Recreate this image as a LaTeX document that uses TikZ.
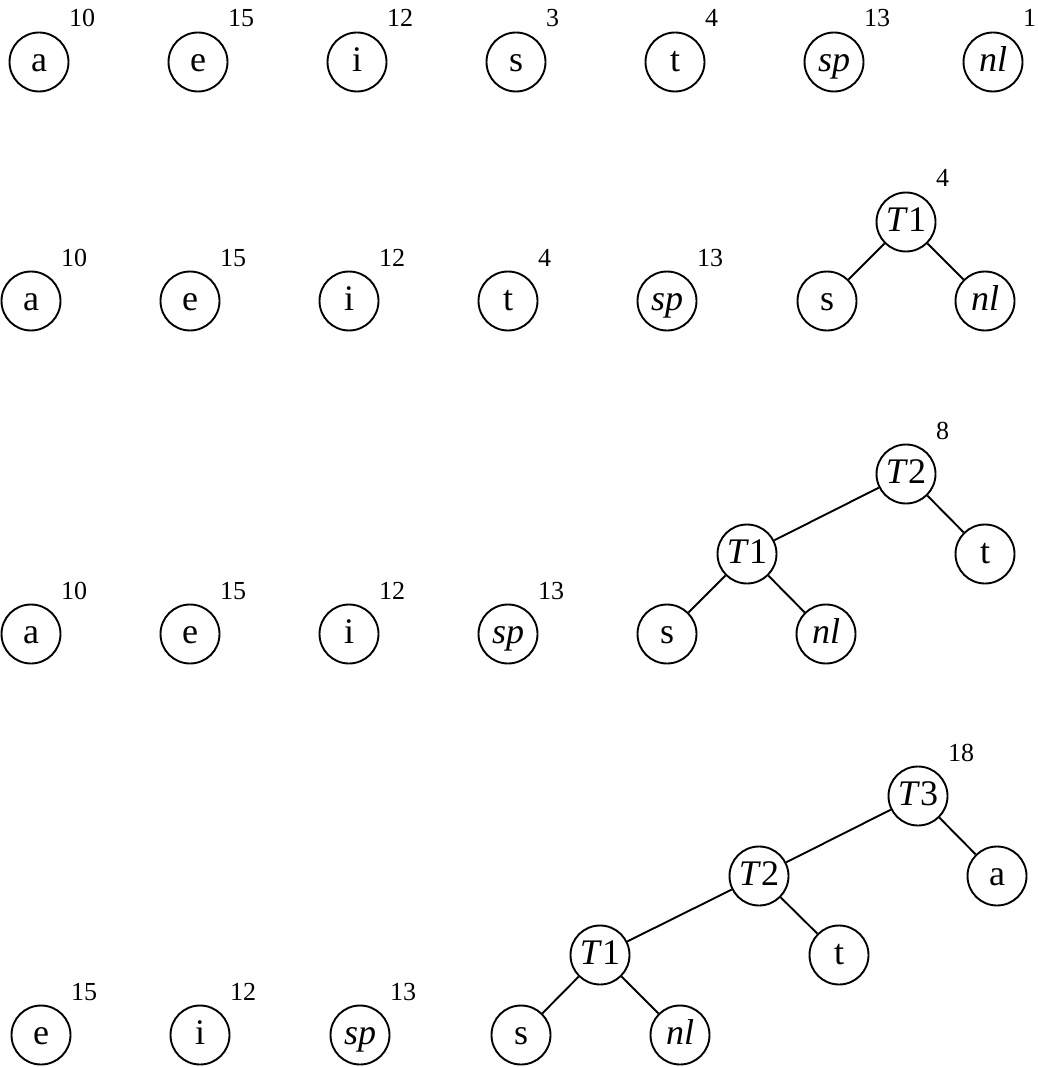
\documentclass[tikz,border=0pt]{standalone}
\usepackage{fontspec}
\setmainfont{Liberation Serif}
\begin{document}
\begin{tikzpicture}[x=1pt,y=-1pt,
  nd/.style={circle,draw,line width=1.9pt,minimum size=59pt,inner sep=0pt,
    text height=19pt,text depth=0pt,font=\fontsize{36}{40}\selectfont},
  wt/.style={anchor=base west,inner sep=0pt,font=\fontsize{26}{30}\selectfont},
  ed/.style={line width=1.9pt}]
\useasboundingbox (0,0) rectangle (1037,1067);
\newcommand{\wgt}[3]{\node[wt] (#1) at ([xshift=30pt,yshift=35pt]#2.center) {#3};}
% ---- Row 1
\node[nd] (a1) at (39,62) {a};
\node[nd] (e1) at (198,62) {e};
\node[nd] (i1) at (357,62) {i};
\node[nd] (s1) at (516,62) {s};
\node[nd] (t1) at (675,62) {t};
\node[nd] (sp1) at (834,62) {\textit{sp}};
\node[nd] (nl1) at (993,62) {\textit{nl}};
\wgt{wa1}{a1}{10}
\wgt{we1}{e1}{15}
\wgt{wi1}{i1}{12}
\wgt{ws1}{s1}{3}
\wgt{wt1}{t1}{4}
\wgt{wsp1}{sp1}{13}
\wgt{wnl1}{nl1}{1}
% ---- Row 2
\node[nd] (a2) at (31,301) {a};
\node[nd] (e2) at (190,301) {e};
\node[nd] (i2) at (349,301) {i};
\node[nd] (t2) at (508,301) {t};
\node[nd] (sp2) at (667,301) {\textit{sp}};
\node[nd] (T12) at (906,222) {\textit{T}1};
\node[nd] (s2) at (827,301) {s};
\node[nd] (nl2) at (985,301) {\textit{nl}};
\wgt{wa2}{a2}{10}
\wgt{we2}{e2}{15}
\wgt{wi2}{i2}{12}
\wgt{wt2}{t2}{4}
\wgt{wsp2}{sp2}{13}
\wgt{wT12}{T12}{4}
\draw[ed] (T12) -- (s2);
\draw[ed] (T12) -- (nl2);
% ---- Row 3
\node[nd] (a3) at (31,634) {a};
\node[nd] (e3) at (190,634) {e};
\node[nd] (i3) at (349,634) {i};
\node[nd] (sp3) at (508,634) {\textit{sp}};
\node[nd] (T23) at (906,474) {\textit{T}2};
\node[nd] (T13) at (747,554) {\textit{T}1};
\node[nd] (t3) at (985,554) {t};
\node[nd] (s3) at (667,634) {s};
\node[nd] (nl3) at (826,634) {\textit{nl}};
\wgt{wa3}{a3}{10}
\wgt{we3}{e3}{15}
\wgt{wi3}{i3}{12}
\wgt{wsp3}{sp3}{13}
\wgt{wT23}{T23}{8}
\draw[ed] (T23) -- (T13);
\draw[ed] (T23) -- (t3);
\draw[ed] (T13) -- (s3);
\draw[ed] (T13) -- (nl3);
% ---- Row 4
\node[nd] (e4) at (41,1035) {e};
\node[nd] (i4) at (200,1035) {i};
\node[nd] (sp4) at (360,1035) {\textit{sp}};
\node[nd] (T34) at (918,796) {\textit{T}3};
\node[nd] (T24) at (759,876) {\textit{T}2};
\node[nd] (a4) at (997,876) {a};
\node[nd] (T14) at (600,955) {\textit{T}1};
\node[nd] (t4) at (839,955) {t};
\node[nd] (s4) at (521,1035) {s};
\node[nd] (nl4) at (680,1035) {\textit{nl}};
\wgt{we4}{e4}{15}
\wgt{wi4}{i4}{12}
\wgt{wsp4}{sp4}{13}
\wgt{wT34}{T34}{18}
\draw[ed] (T34) -- (T24);
\draw[ed] (T34) -- (a4);
\draw[ed] (T24) -- (T14);
\draw[ed] (T24) -- (t4);
\draw[ed] (T14) -- (s4);
\draw[ed] (T14) -- (nl4);
\end{tikzpicture}
\end{document}
